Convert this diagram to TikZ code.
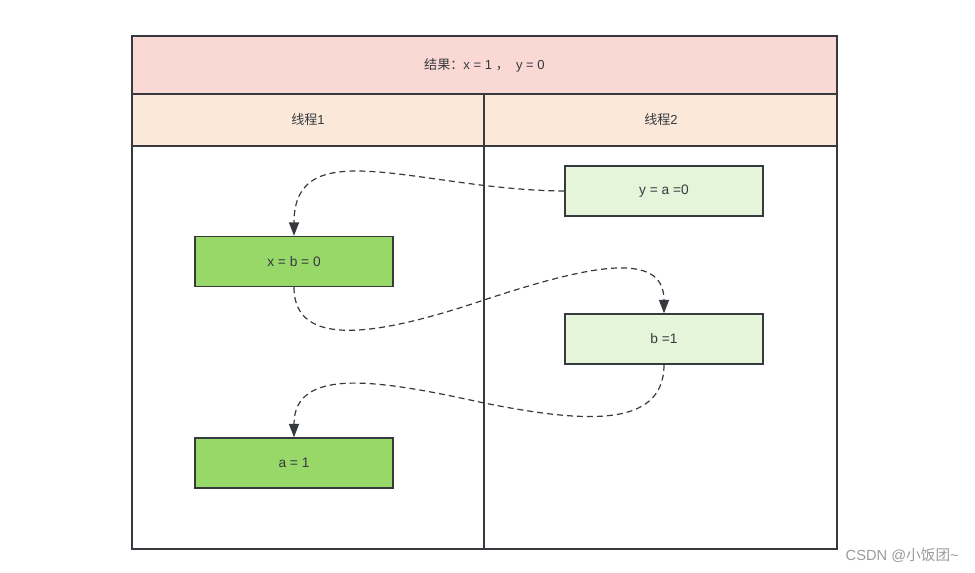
\documentclass[tikz,border=0pt]{standalone}
\usepackage{fontspec}
\setmainfont{Liberation Sans}
\newfontfamily\cjk{Noto Sans CJK SC}
\usetikzlibrary{arrows.meta}
\definecolor{titlefill}{HTML}{FAD9D5}
\definecolor{headfill}{HTML}{FBE8D9}
\definecolor{lightgreen}{HTML}{E4F5DA}
\definecolor{darkgreen}{HTML}{97D869}
\definecolor{edge}{HTML}{36393D}
\definecolor{wm}{HTML}{9A9A9A}
\tikzset{
  band/.style={draw=edge, line width=1.1pt},
  stepbox/.style={draw=edge, line width=1.1pt, minimum width=148.5pt, minimum height=37.5pt, inner sep=0pt, font=\fontsize{10.3}{12}\selectfont, text=edge},
  lbl/.style={font=\fontsize{9.8}{11}\selectfont, text=edge},
  flow/.style={draw=edge, line width=0.9pt, dash pattern=on 4.5pt off 3pt, -{Triangle[length=10pt,width=7.5pt]}}
}
\begin{document}
\begin{tikzpicture}[x=0.75pt, y=-0.75pt]
\useasboundingbox (0,0) rectangle (975,572);
% bands
\fill[titlefill] (132,36) rectangle (837,94);
\fill[headfill] (132,94) rectangle (837,146);
\draw[band] (132,36) rectangle (837,549);
\draw[band] (132,94) -- (837,94);
\draw[band] (132,146) -- (837,146);
\draw[band] (484,94) -- (484,549);
\node[lbl] (title) at (484.5,65) {{\cjk 结果：}x = 1 {\cjk ，}\ \ y = 0};
\node[lbl] (t1) at (308,120) {{\cjk 线程}1};
\node[lbl] (t2) at (661,120) {{\cjk 线程}2};
% nodes
\node[stepbox, fill=lightgreen] (ya) at (664,191) {y = a =0};
\node[stepbox, fill=darkgreen] (xb) at (294,261.5) {x = b = 0};
\node[stepbox, fill=lightgreen] (b1) at (664,339) {b =1};
\node[stepbox, fill=darkgreen] (a1) at (294,463) {a = 1};
% connectors
\draw[flow] (ya.west) .. controls (420,190) and (294,130) .. (xb.north);
\coordinate (m1) at (484,300);
\coordinate (m2) at (484,403);
\draw[flow] (xb.south) .. controls (294,350) and (380,335) .. (m1) .. controls (590,265) and (664,250) .. (b1.north);
\draw[flow] (b1.south) .. controls (664,430) and (580,422) .. (m2) .. controls (380,380) and (294,366) .. (a1.north);
% watermark
\node[font=\fontsize{11}{13}\selectfont, text=wm, anchor=west] (wmk) at (841,555) {CSDN @{\cjk 小饭团}\textasciitilde};
\end{tikzpicture}
\end{document}
